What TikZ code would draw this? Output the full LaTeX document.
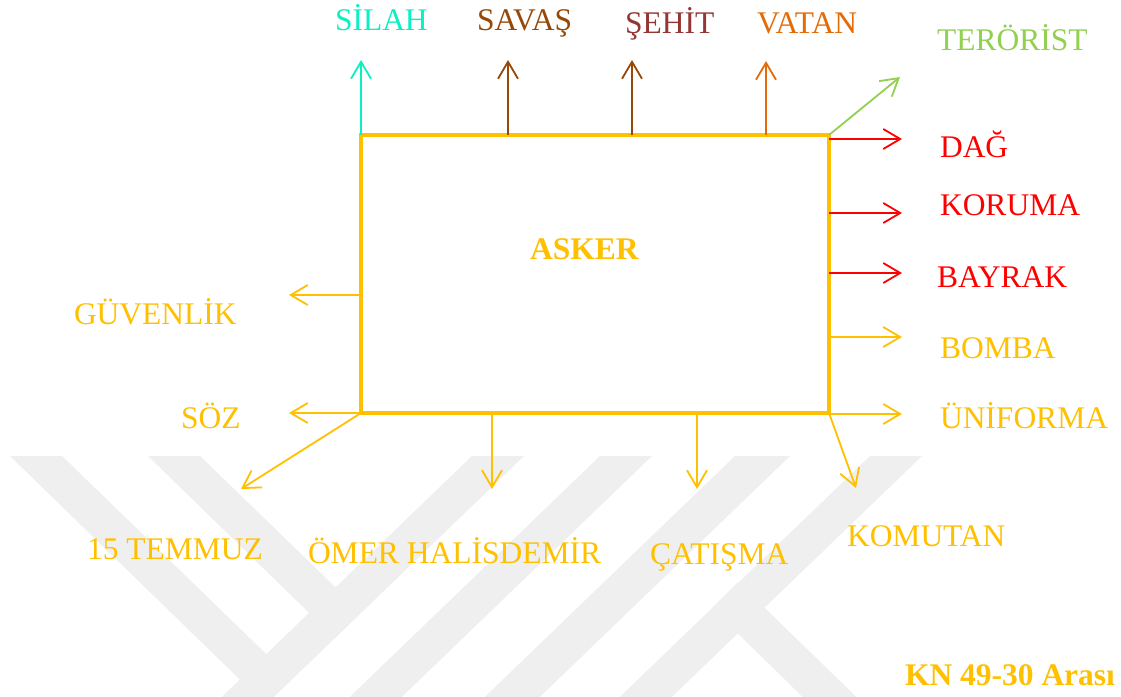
\documentclass[tikz,border=0pt]{standalone}
\usepackage{fontspec}
\setmainfont{Liberation Serif}
\usetikzlibrary{arrows.meta}
\definecolor{gold}{HTML}{FFC000}
\definecolor{silahc}{HTML}{0AF0C4}
\definecolor{savasc}{HTML}{974706}
\definecolor{sehitc}{HTML}{943634}
\definecolor{vatanc}{HTML}{E36C09}
\definecolor{terorc}{HTML}{92D050}
\definecolor{redc}{HTML}{FF0000}
\definecolor{wmark}{HTML}{EFEFEF}
\tikzset{
  lbl/.style={anchor=base west, inner sep=0pt, outer sep=0pt, font=\fontsize{31.5}{36}\selectfont},
  boldlbl/.style={anchor=base west, inner sep=0pt, outer sep=0pt, font=\fontsize{31.5}{36}\selectfont\bfseries},
  conn/.style={line width=1.8pt, -{Straight Barb[length=17pt,width=20pt]}},
  mainbox/.style={draw=gold, line width=4pt, minimum width=468pt, minimum height=278pt, inner sep=0pt, outer sep=0pt},
  wm/.style={fill=wmark, draw=none}
}
\begin{document}
\begin{tikzpicture}[x=1pt,y=-1pt]
\useasboundingbox (0,0) rectangle (1121,696);
\fill[white] (0,0) rectangle (1121,696);
% watermark
\begin{scope}
\clip (0,0) rectangle (1121,696);
\fill[wm] (10,456) -- (62,456) -- (292,679) -- (265,704) -- cycle;
\fill[wm] (148,456) -- (200,456) -- (361,612) -- (335,638) -- cycle;
\fill[wm] (472,456) -- (524,456) -- (254,716) -- (202,716) -- cycle;
\fill[wm] (600,456) -- (652,456) -- (382,716) -- (330,716) -- cycle;
\fill[wm] (735,456) -- (790,456) -- (520,716) -- (465,716) -- cycle;
\fill[wm] (870,456) -- (922,456) -- (652,716) -- (600,716) -- cycle;
\fill[wm] (738,582) -- (876,716) -- (822,716) -- (712,608) -- cycle;
\end{scope}

% main box
\node[mainbox] (box) at (595,274) {};
\node[boldlbl, text=gold] (asker) at (530,259) {ASKER};

% labels
\node[lbl, text=silahc] (silah) at (335,30) {SİLAH};
\node[lbl, text=savasc] (savas) at (477,30) {SAVAŞ};
\node[lbl, text=sehitc] (sehit) at (625,33) {ŞEHİT};
\node[lbl, text=vatanc] (vatan) at (757,33) {VATAN};
\node[lbl, text=terorc] (teror) at (937,50) {TERÖRİST};
\node[lbl, text=redc] (dag) at (940,157) {DAĞ};
\node[lbl, text=redc] (koruma) at (940,215) {KORUMA};
\node[lbl, text=redc] (bayrak) at (937,287) {BAYRAK};
\node[lbl, text=gold] (bomba) at (940,358) {BOMBA};
\node[lbl, text=gold] (uniforma) at (940,428) {ÜNİFORMA};
\node[lbl, text=gold] (guvenlik) at (74,324) {GÜVENLİK};
\node[lbl, text=gold] (soz) at (181,428) {SÖZ};
\node[lbl, text=gold] (temmuz) at (87,559) {15 TEMMUZ};
\node[lbl, text=gold] (omer) at (308,563) {ÖMER HALİSDEMİR};
\node[lbl, text=gold] (catisma) at (650,564) {ÇATIŞMA};
\node[lbl, text=gold] (komutan) at (847,546) {KOMUTAN};
\node[boldlbl, text=gold] (kn) at (905,685) {KN 49-30 Arası};

% arrow tips
\coordinate (tSilah) at (361,60);
\coordinate (tSavas) at (508,60);
\coordinate (tSehit) at (632,60);
\coordinate (tVatan) at (766,61);
\coordinate (tTeror) at (900,77);
\coordinate (tDag) at (902,139);
\coordinate (tKoruma) at (902,213);
\coordinate (tBayrak) at (902,273);
\coordinate (tBomba) at (902,337);
\coordinate (tUni) at (902,414);
\coordinate (tGuv) at (289,295);
\coordinate (tSoz) at (289,413);
\coordinate (tTem) at (241,489);
\coordinate (tOmer) at (492,489);
\coordinate (tCat) at (697,489);
\coordinate (tKom) at (856,488);

% connectors
\draw[conn, draw=silahc] (tSilah |- box.north) -- (tSilah);
\draw[conn, draw=savasc] (tSavas |- box.north) -- (tSavas);
\draw[conn, draw=savasc] (tSehit |- box.north) -- (tSehit);
\draw[conn, draw=vatanc] (tVatan |- box.north) -- (tVatan);
\draw[conn, draw=terorc] (box.north east) -- (tTeror);
\draw[conn, draw=redc] (box.east |- tDag) -- (tDag);
\draw[conn, draw=redc] (box.east |- tKoruma) -- (tKoruma);
\draw[conn, draw=redc] (box.east |- tBayrak) -- (tBayrak);
\draw[conn, draw=gold] (box.east |- tBomba) -- (tBomba);
\draw[conn, draw=gold] (box.east |- tUni) -- (tUni);
\draw[conn, draw=gold] (box.west |- tGuv) -- (tGuv);
\draw[conn, draw=gold] (box.west |- tSoz) -- (tSoz);
\draw[conn, draw=gold] (box.south west) -- (tTem);
\draw[conn, draw=gold] (tOmer |- box.south) -- (tOmer);
\draw[conn, draw=gold] (tCat |- box.south) -- (tCat);
\draw[conn, draw=gold] (box.south east) -- (tKom);
\end{tikzpicture}
\end{document}
